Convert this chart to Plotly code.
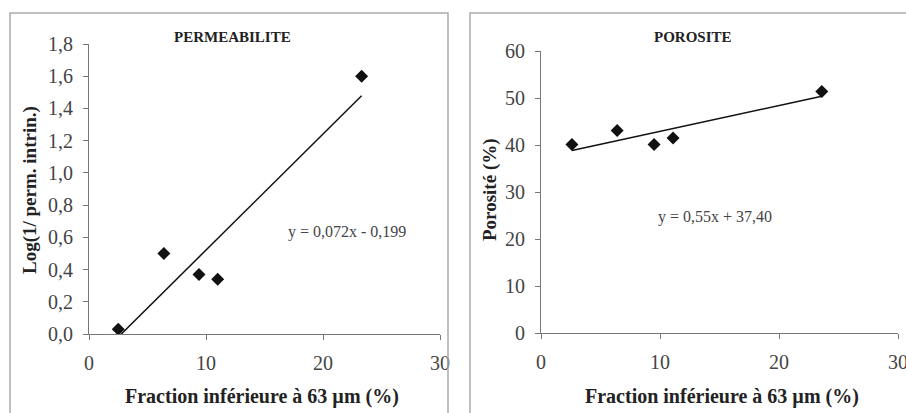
import plotly.graph_objects as go

# Data
frac_perm = [2.5, 6.4, 9.4, 11.0, 23.3]
log_perm = [0.03, 0.50, 0.37, 0.34, 1.60]
frac_poro = [2.6, 6.4, 9.5, 11.1, 23.6]
porosite = [40.1, 43.1, 40.1, 41.5, 51.4]

perm_slope, perm_icpt = 0.072, -0.199
poro_slope, poro_icpt = 0.55, 37.40

x_ticks = [0, 10, 20, 30]

SERIF = "Liberation Serif, Times New Roman, serif"

fig = go.Figure()

# Left panel: permeability
fig.add_trace(go.Scatter(x=frac_perm, y=log_perm, mode="markers",
                         marker=dict(symbol="diamond", size=10, color="#111"),
                         xaxis="x", yaxis="y", showlegend=False))
xl = [min(frac_perm), max(frac_perm)]
fig.add_trace(go.Scatter(x=xl, y=[perm_slope * v + perm_icpt for v in xl], mode="lines",
                         line=dict(color="#111", width=1.5),
                         xaxis="x", yaxis="y", showlegend=False))

# Right panel: porosity
fig.add_trace(go.Scatter(x=frac_poro, y=porosite, mode="markers",
                         marker=dict(symbol="diamond", size=10, color="#111"),
                         xaxis="x2", yaxis="y2", showlegend=False))
xr = [min(frac_poro), max(frac_poro)]
fig.add_trace(go.Scatter(x=xr, y=[poro_slope * v + poro_icpt for v in xr], mode="lines",
                         line=dict(color="#111", width=1.5),
                         xaxis="x2", yaxis="y2", showlegend=False))

W, H = 906, 413
axis_common = dict(showgrid=False, zeroline=False, showline=True, linecolor="#777",
                   linewidth=1, ticks="outside", ticklen=5, tickcolor="#777",
                   automargin=False, ticklabeloverflow="allow",
                   tickfont=dict(family=SERIF, size=20, color="#444"))

fig.update_layout(
    template="none",
    width=W, height=H,
    margin=dict(l=0, r=0, t=0, b=0, autoexpand=False),
    paper_bgcolor="white", plot_bgcolor="white",
    separators=", ",
    xaxis=dict(domain=[89 / W, 440 / W], range=[0, 30], tickvals=x_ticks,
               anchor="y", ticklabelstandoff=6, **axis_common),
    yaxis=dict(domain=[1 - 334 / H, 1 - 44 / H], range=[0, 1.8], dtick=0.2,
               tickformat=".1f", anchor="x", ticklabelstandoff=6, **axis_common),
    xaxis2=dict(domain=[541 / W, 898 / W], range=[0, 30], tickvals=x_ticks,
                anchor="y2", ticklabelstandoff=6, **axis_common),
    yaxis2=dict(domain=[1 - 333 / H, 1 - 51 / H], range=[0, 60], dtick=10,
                anchor="x2", ticklabelstandoff=6, **axis_common),
)

# Panel frames
fig.add_shape(type="rect", xref="paper", yref="paper",
              x0=10 / W, x1=448 / W, y0=-0.05, y1=1 - 13 / H,
              line=dict(color="#aaa", width=1.5))
fig.add_shape(type="rect", xref="paper", yref="paper",
              x0=470 / W, x1=1.05, y0=-0.05, y1=1 - 13 / H,
              line=dict(color="#aaa", width=1.5))

def ann(x, y, text, size, bold=False, angle=0, color="#222"):
    fig.add_annotation(xref="paper", yref="paper", x=x / W, y=1 - y / H,
                       text=f"<b>{text}</b>" if bold else text, showarrow=False,
                       textangle=angle, xanchor="center", yanchor="middle",
                       font=dict(family=SERIF, size=size, color=color))

ann(233, 37, "PERMEABILITE", 15, bold=True)
ann(693, 37, "POROSITE", 15, bold=True)
ann(347, 232, "y = 0,072x - 0,199", 16, color="#444")
ann(715, 217, "y = 0,55x + 37,40", 16, color="#444")
ann(262, 396, "Fraction inférieure à 63 µm (%)", 20, bold=True)
ann(722, 396, "Fraction inférieure à 63 µm (%)", 20, bold=True)
ann(30, 190, "Log(1/ perm. intrin.)", 19, bold=True, angle=-90)
ann(490, 190, "Porosité (%)", 19, bold=True, angle=-90)

fig.write_html("out.html", config={"displayModeBar": False},
               post_script="document.body.style.margin='0';document.body.style.overflow='hidden';")
